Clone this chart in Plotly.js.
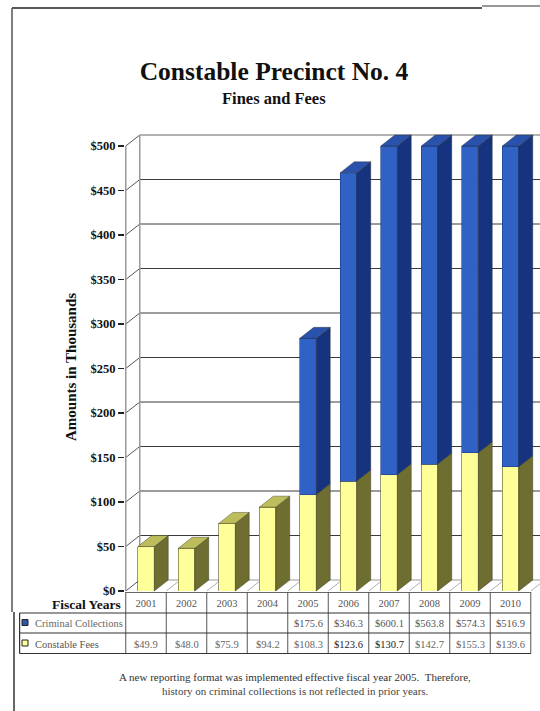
<!DOCTYPE html>
<html><head><meta charset="utf-8">
<script src="https://cdn.plot.ly/plotly-3.0.1.min.js"></script>
<style>html,body{margin:0;padding:0;background:#fff}</style></head>
<body><div id="chart" style="width:540px;height:711px"></div>
<script>
const years = ['2001','2002','2003','2004','2005','2006','2007','2008','2009','2010'];
const criminalCollections = [null,null,null,null,175.6,346.3,600.1,563.8,574.3,516.9];
const constableFees = [49.9,48.0,75.9,94.2,108.3,123.6,130.7,142.7,155.3,139.6];
const yTicks = [0,50,100,150,200,250,300,350,400,450,500];
const AXIS_MAX = 500;

// geometry of the picture
const W=540,H=711, M={l:125,r:0,t:128,b:120};
const plotH=H-M.t-M.b;
const pxPerCat=40.5, pxPerDollar=445/500;
const xRange=[-0.5185,9.728];
const yRange=[0,plotH/pxPerDollar];
const depthX=14/pxPerCat, depthY=11/pxPerDollar, barW=16.5/pxPerCat;
const py=p=>(H-M.b-p)/plotH;
const idx=years.map((_,i)=>i);
const serif='"Liberation Serif","Times New Roman",serif';

// stacks, cut off at the axis maximum like the reference
const feeDrawn=constableFees.map(v=>Math.min(v,AXIS_MAX));
const crimDrawn=criminalCollections.map((v,i)=>v==null?null:Math.min(v,AXIS_MAX-feeDrawn[i]));

function faces(bottoms,tops,withTop){
  const sx=[],sy=[],tx=[],ty=[];
  idx.forEach(i=>{
    if(tops[i]==null) return;
    const l=i-barW/2,r=i+barW/2,b=bottoms[i],t=tops[i];
    sx.push(r,r+depthX,r+depthX,r,r,null); sy.push(b,b+depthY,t+depthY,t,b,null);
    if(withTop(i)){ tx.push(l,r,r+depthX,l+depthX,l,null); ty.push(t,t,t+depthY,t+depthY,t,null); }
  });
  return {sx,sy,tx,ty};
}
const feeF=faces(idx.map(()=>0),feeDrawn,i=>crimDrawn[i]==null);
const crimF=faces(feeDrawn,crimDrawn.map((v,i)=>v==null?null:feeDrawn[i]+v),()=>true);
const poly=(x,y,fill,name)=>({type:'scatter',mode:'lines',x,y,fill:'toself',fillcolor:fill,
  line:{color:'#2a2a20',width:0.4},hoverinfo:'skip',showlegend:false,name,cliponaxis:false});

const traces=[
 {type:'bar',name:'Constable Fees',x:idx,y:feeDrawn,width:barW,marker:{color:'#ffff99',line:{color:'#55552a',width:0.6}},showlegend:false},
 {type:'bar',name:'Criminal Collections',x:idx,y:crimDrawn,width:barW,marker:{color:'#2f62c4',line:{color:'#1c3d8a',width:0.6}},showlegend:false},
 poly(feeF.sx,feeF.sy,'#6e6e30','fee side'),
 poly(feeF.tx,feeF.ty,'#bdbd5c','fee top'),
 poly(crimF.sx,crimF.sy,'#16337f','crim side'),
 poly(crimF.tx,crimF.ty,'#2a52ac','crim top')
];

const shapes=[];
const seg=(x0,y0,x1,y1,color,width,xref,yref)=>shapes.push({type:'line',layer:'below',xref:xref||'x',yref:yref||'y',x0,y0,x1,y1,line:{color,width}});
const left=-0.5, backLeft=left+depthX;
// walls and gridlines
yTicks.forEach(t=>{
  if(t>0 && t<AXIS_MAX) seg(backLeft,t+depthY,xRange[1],t+depthY,'#3a3a3a',1);
  seg(left,t,backLeft,t+depthY,'#555',1);
});
seg(backLeft,AXIS_MAX+depthY,xRange[1],AXIS_MAX+depthY,'#9a9a9a',1.5);
seg(backLeft,depthY,xRange[1],depthY,'#999',1);
seg(backLeft,depthY,backLeft,AXIS_MAX+depthY,'#9a9a9a',1.5);
seg(left,0,left,AXIS_MAX,'#9a9a9a',1.5);
idx.forEach(i=>seg(i+0.5,0,i+0.5+depthX,depthY,'#999',0.8));

// data table grid
const tableRight=9.5, tableLeftPx=19.6;
[592.5,613,633,653.5].forEach((p,i)=>{
  if(i===0) seg(left,py(p),tableRight,py(p),'#666',1,'x','paper');
  else shapes.push({type:'line',layer:'above',xref:'paper',yref:'paper',x0:(tableLeftPx-M.l)/(W-M.l),x1:(531-M.l)/(W-M.l),y0:py(p),y1:py(p),line:{color:'#333',width:1.2}});
});
for(let i=-1;i<years.length;i++) seg(i+0.5,py(592),i+0.5,py(653.5),'#555',1,'x','paper');
shapes.push({type:'line',layer:'above',xref:'paper',yref:'paper',x0:(tableLeftPx-M.l)/(W-M.l),x1:(tableLeftPx-M.l)/(W-M.l),y0:py(613),y1:py(653.5),line:{color:'#333',width:1.2}});
// legend keys in table
const keyPx=(c,p)=>shapes.push({type:'rect',layer:'above',xref:'paper',yref:'paper',x0:(22-M.l)/(W-M.l),x1:(28-M.l)/(W-M.l),y0:py(p+3),y1:py(p-3),fillcolor:c,line:{color:'#222',width:1}});
keyPx('#2f55a8',622.5); keyPx('#ffff99',643);
// page frame
const frame=(a,b,c,d,col)=>shapes.push({type:'line',layer:'above',xref:'paper',yref:'paper',x0:(a-M.l)/(W-M.l),x1:(c-M.l)/(W-M.l),y0:py(b),y1:py(d),line:{color:col,width:1.5}});
frame(12,8,482,8,'#222'); frame(482,6,540,6,'#777'); frame(12,8,12,612,'#555'); frame(14,612,14,711,'#333');

// text
const ann=[];
const note=(text,xp,yp,size,color,bold,extra)=>ann.push(Object.assign({xref:'paper',yref:'paper',x:(xp-M.l)/(W-M.l),y:py(yp),text:bold?'<b>'+text+'</b>':text,showarrow:false,font:{family:serif,size,color},xanchor:'center',yanchor:'middle'},extra||{}));
note('Fines and Fees',274,99,16.5,'#111',true);
note('Amounts in Thousands',71,367,15,'#111',true,{textangle:-90});
note('Fiscal Years',123,604,13.5,'#111',true,{xanchor:'right'});
note('Criminal Collections',33,623,10.5,'#666',false,{xanchor:'left'});
note('Constable Fees',33,644,10.5,'#555',false,{xanchor:'left'});
note('A new reporting format was implemented effective fiscal year 2005.  Therefore,',295,677,11,'#333',false);
note('history on criminal collections is not reflected in prior years.',295,691,11,'#444',false);
const money=v=>'$'+v.toFixed(1);
idx.forEach(i=>{
  if(criminalCollections[i]!=null) ann.push({xref:'x',yref:'paper',x:i,y:py(623),yanchor:'middle',text:money(criminalCollections[i]),showarrow:false,font:{family:serif,size:10.5,color:'#555'}});
  ann.push({xref:'x',yref:'paper',x:i,y:py(644),yanchor:'middle',text:money(constableFees[i]),showarrow:false,font:{family:serif,size:10.5,color:(i==5||i==6)?'#222':'#666'}});
});

const layout={
  width:W,height:H,margin:M,paper_bgcolor:'#fff',plot_bgcolor:'rgba(0,0,0,0)',
  barmode:'stack',showlegend:false,
  title:{text:'<b>Constable Precinct No. 4</b>',font:{family:serif,size:25.5,color:'#111'},x:274/W,xanchor:'center',xref:'container',y:1-71/H,yanchor:'middle',yref:'container'},
  xaxis:{range:xRange,tickmode:'array',tickvals:idx,ticktext:years,showgrid:false,zeroline:false,showline:false,ticks:'',
         tickfont:{family:serif,size:10.5,color:'#555'},ticklabelstandoff:4},
  yaxis:{range:yRange,tickmode:'array',tickvals:yTicks,ticktext:yTicks.map(v=>'$'+v),showgrid:false,zeroline:false,showline:false,
         ticks:'outside',ticklen:6,tickcolor:'#222',tickwidth:1.2,tickfont:{family:serif,size:12.5,color:'#111',weight:700}},
  shapes,annotations:ann
};
Plotly.newPlot('chart',traces,layout,{displayModeBar:false,staticPlot:true});
</script></body></html>
